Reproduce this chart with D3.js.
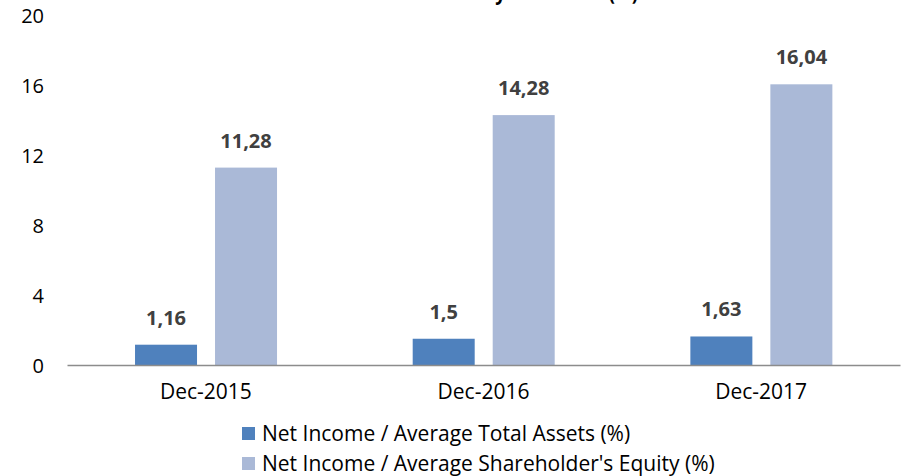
<!DOCTYPE html>
<html>
<head>
<meta charset="utf-8">
<script src="https://cdn.jsdelivr.net/npm/d3@7/dist/d3.min.js"></script>
<style>
  html, body { margin: 0; padding: 0; background: #fff; }
  svg { display: block; font-family: "Open Sans", sans-serif; }
</style>
</head>
<body>
<svg id="chart" width="901" height="476"></svg>
<script>
// Chart data
const categories = ["Dec-2015", "Dec-2016", "Dec-2017"];
const seriesNames = ["Net Income / Average Total Assets (%)", "Net Income / Average Shareholder's Equity (%)"];
const roaValues = [1.16, 1.5, 1.63];
const roeValues = [11.28, 14.28, 16.04];
const valueLabels = [["1,16", "1,5", "1,63"], ["11,28", "14,28", "16,04"]];
const yTicks = [0, 4, 8, 12, 16, 20];
const titleText = "Profitability Indicators (%)";

const colors = ["#4F81BD", "#AAB9D7"];
const series = [roaValues, roeValues];

const svg = d3.select("#chart");
const margin = { left: 67, right: 1, top: 15, bottom: 111 };
const W = 901, H = 476;

const x = d3.scaleBand().domain(categories).range([margin.left, W - margin.right]);
const y = d3.scaleLinear().domain([0, 20]).range([H - margin.bottom, margin.top]);

// inner band for the two bars of each category
const inset = x.bandwidth() * 0.245;
const x1 = d3.scaleBand().domain([0, 1])
  .range([inset, inset + 142])
  .paddingInner(0.225).paddingOuter(0);

// title (runs off the top edge)
svg.append("text")
  .attr("x", 395).attr("y", 0)
  .attr("font-size", 22).attr("font-weight", "bold")
  .attr("textLength", 243).attr("lengthAdjust", "spacingAndGlyphs")
  .attr("fill", "#000")
  .text(titleText);

// y axis labels
const yAxis = d3.axisLeft(y).tickValues(yTicks).tickSize(0).tickPadding(0).tickFormat(d3.format("d"));
const gy = svg.append("g").attr("transform", "translate(44,0)").call(yAxis);
gy.select(".domain").remove();
gy.selectAll("text").attr("font-size", 20).attr("fill", "#000")
  .attr("font-family", "Open Sans, sans-serif").attr("dy", "0.35em");

// bars and value labels
const groups = svg.append("g").selectAll("g")
  .data(categories)
  .join("g")
  .attr("transform", d => `translate(${x(d)},0)`);

groups.each(function (cat, ci) {
  const g = d3.select(this);
  [0, 1].forEach(si => {
    const v = series[si][ci];
    g.append("rect")
      .attr("x", x1(si))
      .attr("width", x1.bandwidth())
      .attr("y", y(v))
      .attr("height", y(0) - y(v))
      .attr("fill", colors[si]);
    g.append("text")
      .attr("x", x1(si) + x1.bandwidth() / 2)
      .attr("y", y(v) - 20)
      .attr("text-anchor", "middle")
      .attr("font-size", 20).attr("font-weight", "bold")
      .attr("fill", "#404040")
      .text(valueLabels[si][ci]);
  });
});

// x axis
const xAxis = d3.axisBottom(x).tickSize(0).tickPadding(19);
const gx = svg.append("g").attr("transform", `translate(0,${y(0)})`).call(xAxis);
gx.select(".domain").attr("stroke", "#8C8C8C").attr("stroke-width", 1.5);
gx.selectAll("text").attr("font-size", 21).attr("fill", "#000")
  .attr("font-family", "Open Sans, sans-serif");

// legend
const legend = svg.append("g").attr("transform", "translate(242,427)");
seriesNames.forEach((name, i) => {
  const row = legend.append("g").attr("transform", `translate(0,${i * 30})`);
  row.append("rect").attr("width", 13).attr("height", 13).attr("fill", colors[i]);
  row.append("text").attr("x", 20).attr("y", 6.5).attr("dy", "0.35em")
    .attr("font-size", 21).attr("fill", "#000").text(name);
});
</script>
</body>
</html>
